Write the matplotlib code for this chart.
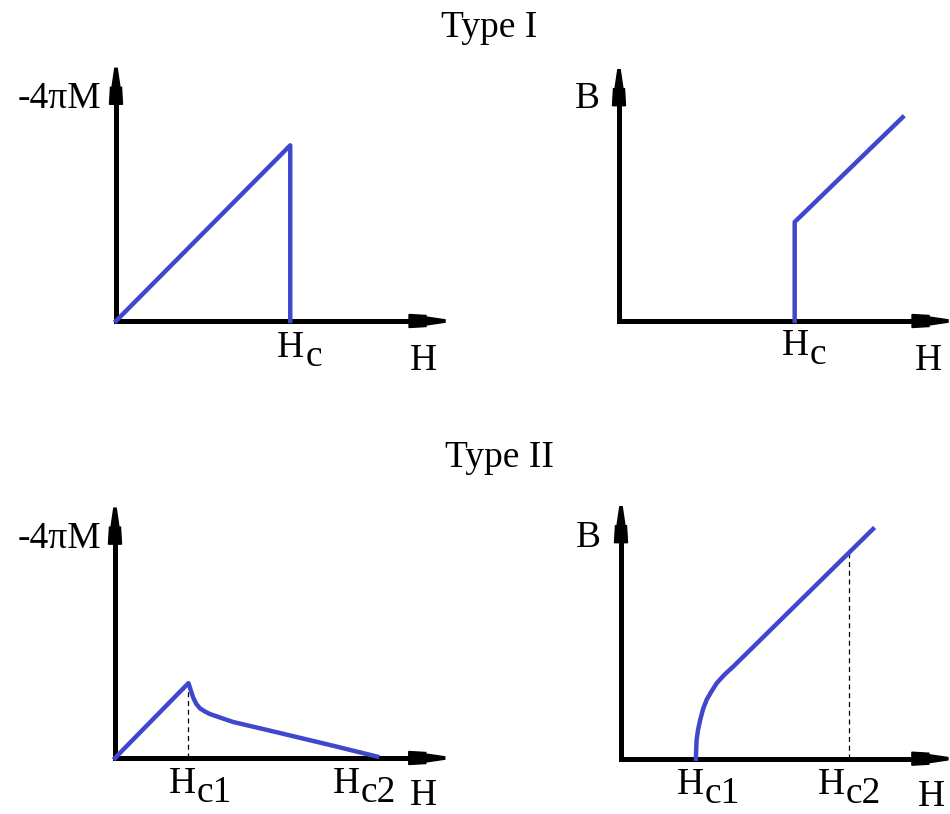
import numpy as np
import matplotlib.pyplot as plt
from matplotlib.patches import Polygon
from matplotlib.transforms import IdentityTransform

plt.rcParams['font.family'] = ['Liberation Serif', 'DejaVu Serif']

W, H_PX = 950, 814
UNIT = 72.0  # pixels per field unit

# Type I, magnetisation: linear rise up to Hc, then drop to zero
t1_hc = 2.42
t1_m_h = [0.0, 2.42, 2.42]
t1_m_val = [0.0, 2.44, 0.0]

# Type I, induction: zero below Hc, jump, then linear
t1_b_h = [2.44, 2.44, 3.94]
t1_b_val = [0.0, 1.375, 2.83]
t1_hc_b = 2.44

# Type II, magnetisation
t2_hc1, t2_hc2 = 1.02, 3.64
t2_m_h = [0.0, 1.02, 1.04, 1.065, 1.09, 1.13, 1.18, 1.25, 1.32, 1.64, 2.11, 2.57, 3.03, 3.64]
t2_m_val = [0.0, 1.04, 0.98, 0.90, 0.83, 0.75, 0.69, 0.645, 0.61, 0.50, 0.39, 0.28, 0.17, 0.02]

# Type II, induction
t2_b_hc1, t2_b_hc2 = 1.04, 3.16
t2_b_h = [1.04, 1.045, 1.05, 1.07, 1.10, 1.14, 1.19, 1.26, 1.33, 1.44, 1.56, 3.50]
t2_b_val = [0.0, 0.14, 0.26, 0.40, 0.54, 0.69, 0.82, 0.94, 1.05, 1.17, 1.28, 3.19]

BLUE = '#3f48cc'
FS = 27

fig = plt.figure(figsize=(W / 100, H_PX / 100), dpi=100)


def make_axes(ox, oy, xlen, ylen):
    # ox, oy: origin in pixels from top-left; lengths in field units
    ax = fig.add_axes([ox / W, (H_PX - oy) / H_PX, xlen * UNIT / W, ylen * UNIT / H_PX])
    ax.set_xlim(0, xlen)
    ax.set_ylim(0, ylen)
    ax.axis('off')
    return ax


def head(tip, u):
    # stepped arrow head, tip and direction in display pixels
    u = np.array(u, float)
    v = np.array([-u[1], u[0]])
    prof = [(0, 1.2), (19, 4.0), (19, 5.5), (36, 6.5), (36, 2.6)]
    pts = [tip - s * u + w * v for s, w in prof]
    pts += [tip - s * u - w * v for s, w in prof[::-1]]
    return Polygon(pts, closed=True, color='black', transform=IdentityTransform(),
                   clip_on=False, zorder=5)


def draw_axes_arrows(ax):
    o = ax.transAxes.transform((0, 0))
    xt = ax.transAxes.transform((1, 0))
    yt = ax.transAxes.transform((0, 1))
    ax.plot([0, 1 - 36 / (xt[0] - o[0])], [0, 0], color='black', lw=3.6,
            transform=ax.transAxes, clip_on=False, solid_capstyle='projecting', zorder=4)
    ax.plot([0, 0], [0, 1 - 36 / (yt[1] - o[1])], color='black', lw=3.6,
            transform=ax.transAxes, clip_on=False, solid_capstyle='projecting', zorder=4)
    ax.add_patch(head(xt, (1, 0)))
    ax.add_patch(head(yt, (0, 1)))


def sub_label(ax, x, main, sub, dx, dy=36):
    ax.annotate(main, xy=(x, 0), xytext=(dx, -dy), textcoords='offset pixels',
                ha='left', va='baseline', fontsize=FS, annotation_clip=False)
    ax.annotate(sub, xy=(x, 0), xytext=(dx + 28, -dy - 9), textcoords='offset pixels',
                ha='left', va='baseline', fontsize=FS, annotation_clip=False)


def corner_labels(ax, ylabel, ydx, ybase, hdx, hdy):
    ax.annotate(ylabel, xy=(0, 1), xycoords='axes fraction', xytext=(ydx, -ybase),
                textcoords='offset pixels', ha='right', va='baseline', fontsize=FS)
    ax.annotate('H', xy=(0, 0), xycoords='axes fraction', xytext=(hdx, -hdy),
                textcoords='offset pixels', ha='left', va='baseline', fontsize=FS)


# top left
ax1 = make_axes(116, 321, 4.57, 3.51)
draw_axes_arrows(ax1)
ax1.plot(t1_m_h, t1_m_val, color=BLUE, lw=3.2, clip_on=False, zorder=6)
sub_label(ax1, t1_hc, 'H', 'c', -13)
corner_labels(ax1, '-4\u03c0M', -15, 40, 294, 49)

# top right
ax2 = make_axes(619, 321, 4.57, 3.49)
draw_axes_arrows(ax2)
ax2.plot(t1_b_h, t1_b_val, color=BLUE, lw=3.2, clip_on=False, zorder=6)
sub_label(ax2, t1_hc_b, 'H', 'c', -13, 34)
corner_labels(ax2, 'B', -19, 38, 296, 49)

# bottom left
ax3 = make_axes(115, 758, 4.58, 3.47)
draw_axes_arrows(ax3)
ax3.plot(t2_m_h, t2_m_val, color=BLUE, lw=3.2, clip_on=False, zorder=6)
ax3.plot([t2_hc1, t2_hc1], [0, np.interp(t2_hc1, t2_m_h, t2_m_val)],
         color='black', lw=0.9, ls=(0, (4, 3)), zorder=3)
sub_label(ax3, t2_hc1, 'H', 'c1', -20, 35)
sub_label(ax3, t2_hc2, 'H', 'c2', -44, 35)
corner_labels(ax3, '-4\u03c0M', -14, 40, 295, 47)

# bottom right
ax4 = make_axes(621, 758.7, 4.54, 3.5)
draw_axes_arrows(ax4)
ax4.plot(t2_b_h, t2_b_val, color=BLUE, lw=3.2, clip_on=False, zorder=6)
ax4.plot([t2_b_hc2, t2_b_hc2], [0, np.interp(t2_b_hc2, t2_b_h, t2_b_val)],
         color='black', lw=0.9, ls=(0, (4, 3)), zorder=3)
sub_label(ax4, t2_b_hc1, 'H', 'c1', -19, 35)
sub_label(ax4, t2_b_hc2, 'H', 'c2', -31, 35)
corner_labels(ax4, 'B', -20, 40, 297, 47)

fig.text(489 / W, 1 - 37 / H_PX, 'Type I', ha='center', va='baseline', fontsize=FS)
fig.text(499 / W, 1 - 467 / H_PX, 'Type II', ha='center', va='baseline', fontsize=FS)

fig.savefig('out.png', dpi=100)
